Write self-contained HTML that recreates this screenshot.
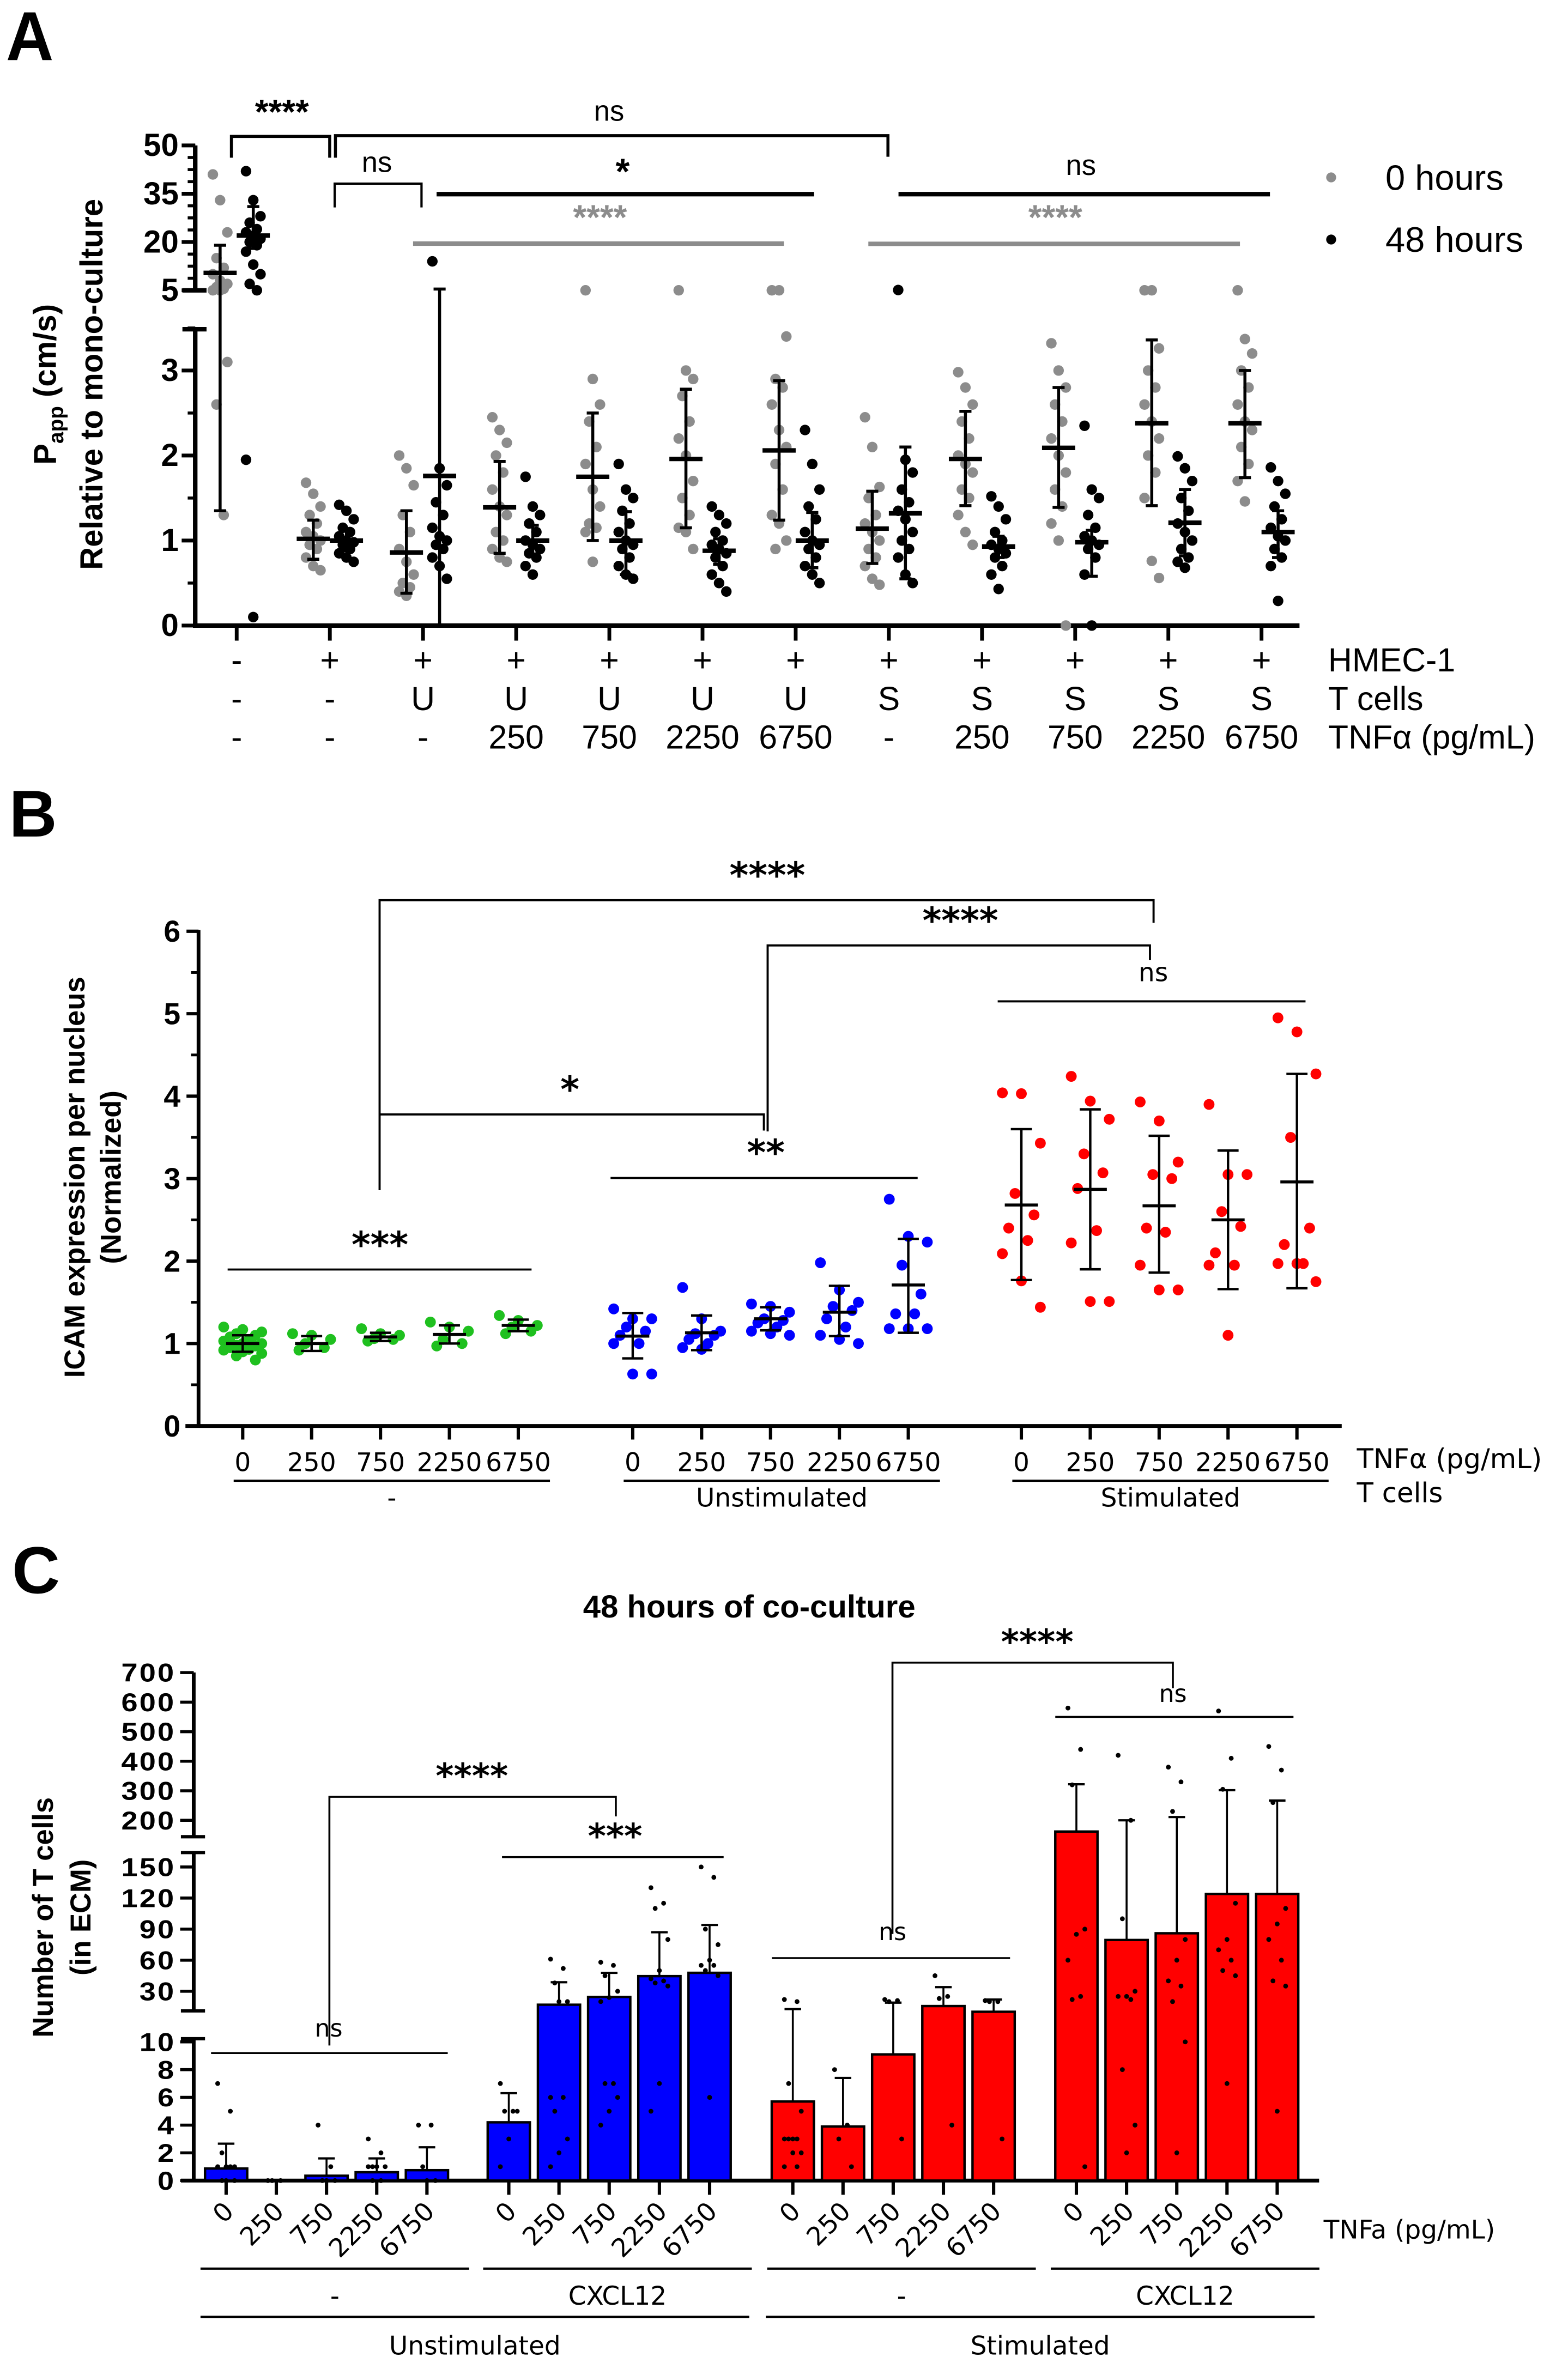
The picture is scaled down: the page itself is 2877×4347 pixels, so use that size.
<!DOCTYPE html>
<html><head><meta charset="utf-8">
<style>
html,body{margin:0;padding:0;background:#fff;}
svg{display:block;}
text{font-family:"Liberation Sans",Arial,sans-serif;}
.dj{font-family:"DejaVu Sans","Liberation Sans",sans-serif;}
</style></head>
<body>
<svg id="fig" xmlns="http://www.w3.org/2000/svg" width="2877" height="4347" viewBox="0 0 1040.1 1571.6" preserveAspectRatio="none">
<rect x="0" y="0" width="1040.1" height="1571.6" fill="#fff"/>
<text x="4" y="40" font-size="46" font-weight="bold" transform="translate(4 40) scale(0.95 1) translate(-4 -40)">A</text>
<text x="6" y="555" font-size="44" font-weight="bold">B</text>
<text x="8" y="1057" font-size="44" font-weight="bold">C</text>

<g id="panelA"></g>
<g id="panelB"></g>
<g id="panelC"></g>
</svg>
<script>
// ================= DATA: Panel A =================
const A_groups = ["g0","g1","g2","g3","g4","g5","g6","g7","g8","g9","g10","g11"];
const A_hmec = ["-","+","+","+","+","+","+","+","+","+","+","+"];
const A_tcells = ["-","-","U","U","U","U","U","S","S","S","S","S"];
const A_tnf = ["-","-","-","250","750","2250","6750","-","250","750","2250","6750"];
const A_grayPts = [
 [41,33,23,15,12,10,8,7,6,5.5,5,5,3.1,2.6,1.3],
 [1.68,1.55,1.4,1.3,1.2,1.1,1.05,1.0,0.95,0.9,0.8,0.7,0.65],
 [2.0,1.85,1.65,1.3,1.1,0.9,0.75,0.6,0.5,0.45,0.4,0.35],
 [2.45,2.3,2.15,2.0,1.8,1.6,1.4,1.3,1.1,1.0,0.9,0.8,0.75],
 [5,2.9,2.6,2.4,2.1,1.9,1.6,1.4,1.2,1.15,1.1,0.75],
 [5,3.0,2.9,2.7,2.4,2.2,2.0,1.7,1.5,1.3,1.15,1.1,0.9],
 [5,5,3.4,2.9,2.8,2.6,2.3,2.1,1.9,1.6,1.3,1.2,1.0,0.9],
 [2.45,2.1,1.63,1.5,1.3,1.2,1.1,1.0,0.9,0.8,0.7,0.55,0.48],
 [2.98,2.8,2.6,2.4,2.2,2.0,1.9,1.8,1.6,1.5,1.3,1.1,0.95],
 [3.32,3.0,2.8,2.6,2.4,2.2,2.0,1.8,1.6,1.4,1.2,1.0,0.0],
 [5,5,3.26,3.0,2.8,2.6,2.4,2.2,2.0,1.8,1.5,0.76,0.56],
 [5,3.37,3.2,3.0,2.8,2.6,2.4,2.3,2.1,1.9,1.7,1.46]
];
const A_blackPts = [
 [42,33,28,26,24,23,22,21,20,19,17,13,10,7,5,1.95,0.1],
 [1.42,1.35,1.25,1.15,1.1,1.05,1.0,0.98,0.95,0.9,0.85,0.8,0.75],
 [14,1.85,1.65,1.45,1.3,1.15,1.05,1.0,0.95,0.9,0.8,0.7,0.55],
 [1.75,1.4,1.3,1.2,1.1,1.0,0.95,0.9,0.85,0.8,0.7,0.6],
 [1.9,1.6,1.5,1.35,1.2,1.1,1.0,0.95,0.9,0.8,0.7,0.6,0.55],
 [1.4,1.3,1.2,1.1,1.0,0.95,0.9,0.85,0.8,0.7,0.6,0.5,0.4],
 [2.3,1.9,1.6,1.4,1.25,1.1,1.0,0.95,0.9,0.8,0.7,0.6,0.5],
 [5.1,1.95,1.8,1.6,1.45,1.35,1.25,1.1,1.0,0.9,0.8,0.6,0.5],
 [1.52,1.4,1.25,1.1,1.0,0.95,0.9,0.85,0.8,0.7,0.6,0.43],
 [2.35,1.6,1.5,1.3,1.15,1.05,1.0,0.95,0.9,0.8,0.6,0.0],
 [1.99,1.85,1.7,1.5,1.35,1.2,1.1,1.0,0.9,0.8,0.75,0.68],
 [1.86,1.7,1.55,1.4,1.25,1.15,1.05,1.0,0.9,0.8,0.7,0.29]
];
const A_grayMean = [10.4,1.02,0.86,1.39,1.75,1.96,2.06,1.14,1.96,2.09,2.38,2.38];
const A_grayLo   = [1.35,0.78,0.38,0.85,1.0,1.15,1.24,0.73,1.41,1.39,1.41,1.74];
const A_grayHi   = [19,1.24,1.35,1.93,2.5,2.78,2.88,1.58,2.52,2.8,3.36,3.0];
const A_blackMean= [22,1.0,1.76,1.0,1.0,0.88,1.0,1.32,0.93,0.98,1.21,1.1];
const A_blackLo  = [18,0.88,0.0,0.82,0.6,0.72,0.68,0.55,0.8,0.58,0.82,0.8];
const A_blackHi  = [31,1.12,5.4,1.18,1.34,1.02,1.33,2.1,1.05,1.12,1.6,1.35];
const A_upperTicks = [50,35,20,5];
const A_lowerTicks = [0,1,2,3];

// ================= DATA: Panel B =================
const B_tnf = ["0","250","750","2250","6750"];
const B_tcellGroups = ["-","Unstimulated","Stimulated"];
const B_colors = ["#1fc01f","#0000ff","#ff0000"];
const B_pts = [
 [[1.2,1.17,1.14,1.12,1.1,1.08,1.05,1.03,1.0,1.0,0.98,0.97,0.95,0.93,0.92,0.9,0.88,0.85,0.8,1.02],
  [1.12,1.1,1.05,1.0,0.95,0.92],
  [1.18,1.12,1.1,1.06,1.05,1.03],
  [1.26,1.2,1.15,1.05,1.0,0.97],
  [1.34,1.28,1.22,1.2,1.15,1.12]],
 [[1.42,1.3,1.3,1.2,1.15,1.1,1.0,1.0,0.63,0.63],
  [1.68,1.3,1.15,1.12,1.1,1.05,1.0,0.95,0.93],
  [1.48,1.45,1.38,1.3,1.28,1.25,1.2,1.15,1.12,1.1],
  [1.98,1.65,1.5,1.45,1.4,1.3,1.2,1.1,1.05,1.0],
  [2.75,2.3,2.23,1.95,1.6,1.36,1.36,1.18,1.18,1.18]],
 [[4.04,4.03,3.43,2.82,2.56,2.4,2.25,2.09,1.76,1.44],
  [4.24,3.94,3.72,3.3,3.07,2.88,2.37,2.22,1.51,1.51],
  [3.93,3.7,3.2,3.05,3.0,2.4,2.35,1.95,1.65,1.65],
  [3.9,3.05,3.05,2.6,2.42,2.1,1.95,1.95,1.1],
  [4.95,4.78,4.27,3.5,2.4,2.2,1.97,1.97,1.97,1.75]]
];
const B_mean = [[1.0,1.0,1.08,1.11,1.22],[1.09,1.13,1.3,1.38,1.71],[2.68,2.87,2.67,2.5,2.96]];
const B_lo = [[0.9,0.91,1.03,1.0,1.15],[0.82,0.92,1.16,1.09,1.13],[1.77,1.9,1.86,1.66,1.67]];
const B_hi = [[1.1,1.09,1.13,1.22,1.29],[1.37,1.34,1.44,1.7,2.27],[3.6,3.84,3.52,3.34,4.27]];
const B_ticks = [0,1,2,3,4,5,6];

// ================= DATA: Panel C =================
const C_tnf = ["0","250","750","2250","6750"];
const C_colors = ["#0000ff","#0000ff","#ff0000","#ff0000"];
const C_mean = [[0.87,0,0.35,0.6,0.75],[4.2,17,24.5,44.6,47.8],[5.7,3.9,9.1,15.7,10.2],[162,79.5,86,124,124]];
const C_err  = [[2.66,0,1.6,1.6,2.4],[6.3,38.7,47.8,87,94],[12.8,7.4,19,34,22],[322,200,211,302,267]];
const C_pts = [
 [[7,5,2,1,1,1,1,0,0,0],[0,0,0],[4,1,0,0,0],[3,2,1,1,1,1,0,0],[4,4,1,0,0]],
 [[7,5,5,5,3,1],[61,52,38,20,20,6,6,5,3,2,1],[58,55,45,30,24,20,7,7,6,5,4],[130,115,110,80,50,42,40,38,35,7,5],[150,140,90,75,60,55,55,50,45,6]],
 [[22,20,7,5,3,3,3,3,2,2,1,1],[8,4,3,1],[22,21,20,3],[45,25,23,4],[21,20,20,3]],
 [[580,440,320,90,85,60,25,22,1],[420,200,100,30,25,25,22,8,4,2],[380,330,230,80,60,40,35,20,10,2],[570,410,305,115,80,70,60,50,45,7],[450,370,260,110,95,80,60,40,35,5]]
];
const C_group = ["-","CXCL12","-","CXCL12"];
const C_tcell = ["Unstimulated","Stimulated"];
const C_topTicks = [700,600,500,400,300,200];
const C_midTicks = [150,120,90,60,30];
const C_lowTicks = [10,8,6,4,2,0];

// ================= helpers =================
const NS = "http://www.w3.org/2000/svg";
function mk(tag, parent, attrs, txt){
  const e = document.createElementNS(NS, tag);
  for (const k in attrs) e.setAttribute(k, attrs[k]);
  if (txt !== undefined) e.textContent = txt;
  parent.appendChild(e);
  return e;
}
function line(p, x1,y1,x2,y2, stroke, w){ return mk("line", p, {x1:x1,y1:y1,x2:x2,y2:y2,stroke:stroke||"#000","stroke-width":w||1.5}); }

// ================= Panel A =================
(function(){
  const g = document.getElementById("panelA");
  const axX = 129.5;
  function yA(v){ return v < 4.4 ? 415 - 56.4*v : 192.6 - (v-5)*2.136; }
  function xA(i){ return 157 + 61.8*i; }
  let e;
  e = line(g, axX, 96.5, axX, 192.6, "#000", 3);
  
  
  e = line(g, axX, 218.4, axX, 416.5, "#000", 3);
  
  
  e = line(g, 121, 192.6, 137, 192.6, "#000", 3);
  
  
  e = line(g, 121, 218.4, 137, 218.4, "#000", 3);
  
  
  e = line(g, 128, 415, 862, 415, "#000", 3);
  
  
  for (let v = 5; v <= 50; v += 3.75){
    const t = line(g, axX-5, yA(v), axX, yA(v), "#000", 2);
    
    
  }
  for (let v = 0.5; v <= 3.5; v += 1){
    const t = line(g, axX-5, yA(v), axX, yA(v), "#000", 2);
    
    
  }
  A_upperTicks.concat(A_lowerTicks).forEach(v => {
    const t = line(g, axX-9, yA(v), axX, yA(v), "#000", 2.5);
    
    
    const lb = mk("text", g, {x: axX-11, y: yA(v)+7, "font-size": 21, "font-weight": "bold", "text-anchor": "end"}, String(v));
    
    
  });
  const yt = mk("text", g, {x: 0, y: 0, "font-size": 21, "font-weight": "bold", "text-anchor": "middle", transform: "translate(37 255) rotate(-90)"});
  
  
  yt.innerHTML = 'P<tspan font-size="14" dy="5">app</tspan><tspan dy="-5"> (cm/s)</tspan>';
  const yt2 = mk("text", g, {x: 0, y: 0, "font-size": 21, "font-weight": "bold", "text-anchor": "middle", transform: "translate(68 255) rotate(-90)"}, "Relative to mono-culture");
  
  

  A_groups.forEach((name, i) => {
    const cx = xA(i);
    const tk = line(g, cx, 415, cx, 425, "#000", 2.5);
    
    
    [[A_grayPts, "#8c8c8c", -11, A_grayMean, A_grayLo, A_grayHi, "gray"],
     [A_blackPts, "#000", 11, A_blackMean, A_blackLo, A_blackHi, "black"]].forEach(s => {
      const [pts, col, off, mean, lo, hi, nm] = s;
      const x0 = cx + off;
      pts[i].forEach((v, j) => {
        const jit = ((j*7) % 5 - 2) * 2.4;
        const c = mk("circle", g, {cx: x0 + jit, cy: yA(v), r: 3.5, fill: col});
        
        
      });
      const er = line(g, x0, yA(hi[i]), x0, yA(lo[i]), "#000", 2);
      
      
      [hi[i], lo[i]].forEach(v => {
        const cp = line(g, x0-4, yA(v), x0+4, yA(v), "#000", 2);
        
        
      });
      const mn = line(g, x0-11, yA(mean[i]), x0+11, yA(mean[i]), "#000", 3);
      
      
    });
    [[A_hmec, 445.4], [A_tcells, 471], [A_tnf, 496.5]].forEach(r => {
      const t = mk("text", g, {x: cx, y: r[1], "font-size": 22, "text-anchor": "middle"}, r[0][i]);
      
      
    });
  });
  [["HMEC-1",445.4],["T cells",471],["TNFα (pg/mL)",496.5]].forEach(r => {
    const t = mk("text", g, {x: 881, y: r[1], "font-size": 22}, r[0]);
    
    
  });
  const l1 = mk("circle", g, {cx: 883, cy: 117.7, r: 3.3, fill: "#8c8c8c"});
  
  
  const l1t = mk("text", g, {x: 919, y: 126, "font-size": 23.5}, "0 hours");
  
  
  const l2 = mk("circle", g, {cx: 883, cy: 158.9, r: 3.3, fill: "#000"});
  
  
  const l2t = mk("text", g, {x: 919, y: 167, "font-size": 23.5}, "48 hours");
  
  
  function path(d, col, w, name){
    const p = mk("path", g, {d: d, stroke: col, "stroke-width": w, fill: "none"});
    
    
  }
  function lab(x, y, s, col, fs, name){
    const t = mk("text", g, {x: x, y: y, "font-size": fs, "text-anchor": "middle", "font-weight": s === "ns" ? "normal" : "bold", fill: col}, s);
    
    
  }
  path("M153.5 104.6 V90.5 H218.7 V104.6", "#000", 2, "sig-bracket-mono");
  lab(187, 82, "****", "#000", 23, "sig-label-mono");
  path("M222.5 104.6 V90 H589 V104", "#000", 2, "sig-bracket-ns-main");
  lab(404, 80, "ns", "#000", 19, "sig-label-ns-main");
  path("M222 137.6 V121.8 H279.6 V137.6", "#000", 1.5, "sig-bracket-ns-small");
  lab(250, 114, "ns", "#000", 19, "sig-label-ns-small");
  path("M289.6 128.8 H540", "#000", 3, "sig-line-u-black");
  lab(413, 122, "*", "#000", 24, "sig-label-u-black");
  path("M274 161.6 H520", "#8c8c8c", 3, "sig-line-u-gray");
  lab(398, 152, "****", "#8c8c8c", 23, "sig-label-u-gray");
  path("M596 128.8 H842.4", "#000", 3, "sig-line-s-black");
  lab(717, 116, "ns", "#000", 19, "sig-label-s-black");
  path("M576 161.8 H822.5", "#8c8c8c", 3, "sig-line-s-gray");
  lab(700, 152, "****", "#8c8c8c", 23, "sig-label-s-gray");
})();

// ================= Panel B =================
(function(){
  const g = document.getElementById("panelB");
  const axX = 131.7;
  function yB(v){ return 946 - 54.7*v; }
  function xB(gi, i){ return [161, 419.7, 677.5][gi] + 45.7*i; }
  let e = line(g, axX, 617, axX, 947, "#000", 2.5);
  
  
  e = line(g, 123, 946, 890, 946, "#000", 2.5);
  
  
  B_ticks.forEach(v => {
    const t = line(g, axX-8, yB(v), axX, yB(v), "#000", 2.2);
    
    
    if (v < 6){
      const m = line(g, axX-5, yB(v+0.5), axX, yB(v+0.5), "#000", 1.8);
      
      
    }
    const lb = mk("text", g, {x: axX-12, y: yB(v)+7, "font-size": 20, "font-weight": "bold", "text-anchor": "end"}, String(v));
    
    
  });
  const yt = mk("text", g, {x: 0, y: 0, "font-size": 19, "font-weight": "bold", "text-anchor": "middle", transform: "translate(56 781) rotate(-90)"}, "ICAM expression per nucleus");
  
  
  const yt2 = mk("text", g, {x: 0, y: 0, "font-size": 19, "font-weight": "bold", "text-anchor": "middle", transform: "translate(80 781) rotate(-90)"}, "(Normalized)");
  
  

  B_pts.forEach((grp, gi) => {
    grp.forEach((pts, i) => {
      const cx = xB(gi, i);
      pts.forEach((v, j) => {
        const jit = ((j*3) % 7 - 3) * 4.2;
        const c = mk("circle", g, {cx: cx + jit, cy: yB(v), r: 3.6, fill: B_colors[gi]});
        
        
      });
      const er = line(g, cx, yB(B_hi[gi][i]), cx, yB(B_lo[gi][i]), "#000", 1.6);
      
      
      [B_hi[gi][i], B_lo[gi][i]].forEach(v => {
        const cp = line(g, cx-7, yB(v), cx+7, yB(v), "#000", 1.6);
        
        
      });
      const mn = line(g, cx-11, yB(B_mean[gi][i]), cx+11, yB(B_mean[gi][i]), "#000", 2);
      
      
      const tk = line(g, cx, 946, cx, 955, "#000", 2.2);
      
      
      const tl = mk("text", g, {x: cx, y: 976, "font-size": 17, "text-anchor": "middle", "class": "dj"}, B_tnf[i]);
      
      
    });
    const x1 = xB(gi,0) - 6, x2 = xB(gi,4) + 21;
    const ul = line(g, x1, 982.3, x2, 982.3, "#000", 1.5);
    
    
    const gl = mk("text", g, {x: (x1+x2)/2, y: 999.4, "font-size": 17, "text-anchor": "middle", "class": "dj"}, B_tcellGroups[gi]);
    
    
  });
  const r1 = mk("text", g, {x: 900, y: 974, "font-size": 18, "class": "dj"}, "TNFα (pg/mL)");
  
  
  const r2 = mk("text", g, {x: 900, y: 996.6, "font-size": 18, "class": "dj"}, "T cells");
  
  
  function path(d, name){
    const p = mk("path", g, {d: d, stroke: "#000", "stroke-width": 1.4, fill: "none"});
    
    
  }
  function lab(x, y, s, name){
    const t = mk("text", g, {x: x, y: y, "font-size": s === "ns" ? 17 : 24, "text-anchor": "middle", "font-weight": s === "ns" ? "normal" : "bold", "class": "dj"}, s);
    
    
  }
  path("M151 842.2 H352.6", "sig-line-none");
  lab(252, 834, "***", "sig-label-none");
  path("M405 781.5 H608.7", "sig-line-unstim");
  lab(508, 773, "**", "sig-label-unstim");
  path("M661.8 664.3 H866", "sig-line-stim");
  lab(765, 651, "ns", "sig-label-stim");
  path("M251.8 789.6 V597.2 H765.2 V612.2", "sig-bracket-none-vs-stim");
  lab(509, 589, "****", "sig-label-none-vs-stim");
  path("M251.8 739.3 H506.7 V750", "sig-bracket-none-vs-unstim");
  lab(378, 731, "*", "sig-label-none-vs-unstim");
  path("M509.2 750.6 V627.2 H762.8 V637", "sig-bracket-unstim-vs-stim");
  lab(637, 619, "****", "sig-label-unstim-vs-stim");
})();

// ================= Panel C =================
(function(){
  const g = document.getElementById("panelC");
  const axX = 128.5;
  function yC(v){
    if (v <= 10) return 1446.6 - 9.2*v;
    if (v <= 160) return 1321 - (v - 30)*0.687;
    return 1207.6 - (v - 200)*0.196;
  }
  function xC(gi, i){ return [150, 337.5, 525.9, 714][gi] + 33.3*i; }
  const title = mk("text", g, {x: 497, y: 1073, "font-size": 21, "font-weight": "bold", "text-anchor": "middle"}, "48 hours of co-culture");
  
  
  let e;
  [[1109.5, 1218.5], [1229, 1334], [1352.5, 1447.5]].forEach(s => {
    e = line(g, axX, s[0], axX, s[1], "#000", 2.5);
    
    
  });
  [1218.5, 1229, 1334, 1352.5].forEach(y => {
    const c = line(g, 120, y, 136, y, "#000", 2.2);
    
    
  });
  e = line(g, 120, 1446.6, 875, 1446.6, "#000", 2.5);
  
  
  C_topTicks.concat(C_midTicks, C_lowTicks).forEach(v => {
    const t = line(g, axX-9, yC(v), axX, yC(v), "#000", 2);
    
    
    const lb = mk("text", g, {x: axX-12, y: yC(v)+6, "font-size": 17, "font-weight": "bold", "text-anchor": "end", "letter-spacing": "1", transform: "translate(" + (axX-12) + " 0) scale(1.15 1) translate(" + (-(axX-12)) + " 0)"}, String(v));
    
    
  });
  const yt = mk("text", g, {x: 0, y: 0, "font-size": 19, "font-weight": "bold", "text-anchor": "middle", transform: "translate(35 1272) rotate(-90)"}, "Number of T cells");
  
  
  const yt2 = mk("text", g, {x: 0, y: 0, "font-size": 19, "font-weight": "bold", "text-anchor": "middle", transform: "translate(60 1272) rotate(-90)"}, "(in ECM)");
  
  

  C_mean.forEach((grp, gi) => {
    grp.forEach((v, i) => {
      const cx = xC(gi, i);
      if (C_err[gi][i] > v){
        const er = line(g, cx, yC(C_err[gi][i]), cx, yC(v), "#000", 1.3);
        
        
        const cp = line(g, cx-5.5, yC(C_err[gi][i]), cx+5.5, yC(C_err[gi][i]), "#000", 1.5);
        
        
      }
      if (v > 0){
        const b = mk("rect", g, {x: cx-14, y: yC(v), width: 28, height: 1446.6 - yC(v), fill: C_colors[gi], stroke: "#000", "stroke-width": 1.6});
        
        
      }
      C_pts[gi][i].forEach((p, j) => {
        const jit = ((j*3) % 5 - 2) * 2.8;
        const d = mk("circle", g, {cx: cx + jit, cy: yC(p), r: 1.6, fill: "#000"});
        
        
      });
      const tk = line(g, cx, 1446.6, cx, 1456, "#000", 2.2);
      
      
      const tl = mk("text", g, {x: 0, y: 0, "font-size": 17, "text-anchor": "end", "class": "dj", transform: "translate(" + (cx+6) + " 1468) rotate(-45)"}, C_tnf[i]);
      
      
    });
    const x1 = xC(gi,0) - 17, x2 = xC(gi,4) + 28;
    const ul = line(g, x1, 1505, x2, 1505, "#000", 1.5);
    
    
    const gl = mk("text", g, {x: (x1+x2)/2, y: 1529, "font-size": 17, "text-anchor": "middle", "class": "dj"}, C_group[gi]);
    
    
  });
  [[133, 497, 0], [508, 872, 1]].forEach(s => {
    const ul = line(g, s[0], 1537, s[1], 1537, "#000", 1.5);
    
    
    const gl = mk("text", g, {x: (s[0]+s[1])/2, y: 1562, "font-size": 17, "text-anchor": "middle", "class": "dj"}, C_tcell[s[2]]);
    
    
  });
  const rl = mk("text", g, {x: 878, y: 1485, "font-size": 17, "class": "dj"}, "TNFa (pg/mL)");
  
  
  function path(d, name){
    const p = mk("path", g, {d: d, stroke: "#000", "stroke-width": 1.3, fill: "none"});
    
    
  }
  function lab(x, y, s, name){
    const t = mk("text", g, {x: x, y: y, "font-size": s === "ns" ? 16 : 23, "text-anchor": "middle", "font-weight": s === "ns" ? "normal" : "bold", "class": "dj"}, s);
    
    
  }
  path("M140 1362 H297", "sig-line-unstim-none");
  lab(218, 1351, "ns", "sig-label-unstim-none");
  path("M218.5 1357 V1192 H408.5 V1205", "sig-bracket-unstim");
  lab(313, 1186, "****", "sig-label-unstim");
  path("M333 1232 H480", "sig-line-unstim-cxcl12");
  lab(408, 1226, "***", "sig-label-unstim-cxcl12");
  path("M512 1299 H670", "sig-line-stim-none");
  lab(592, 1287, "ns", "sig-label-stim-none");
  path("M592 1283 V1103 H778 V1120", "sig-bracket-stim");
  lab(688, 1097, "****", "sig-label-stim");
  path("M700 1139 H858", "sig-line-stim-cxcl12");
  lab(778, 1129, "ns", "sig-label-stim-cxcl12");
})();
</script>
</body></html>
